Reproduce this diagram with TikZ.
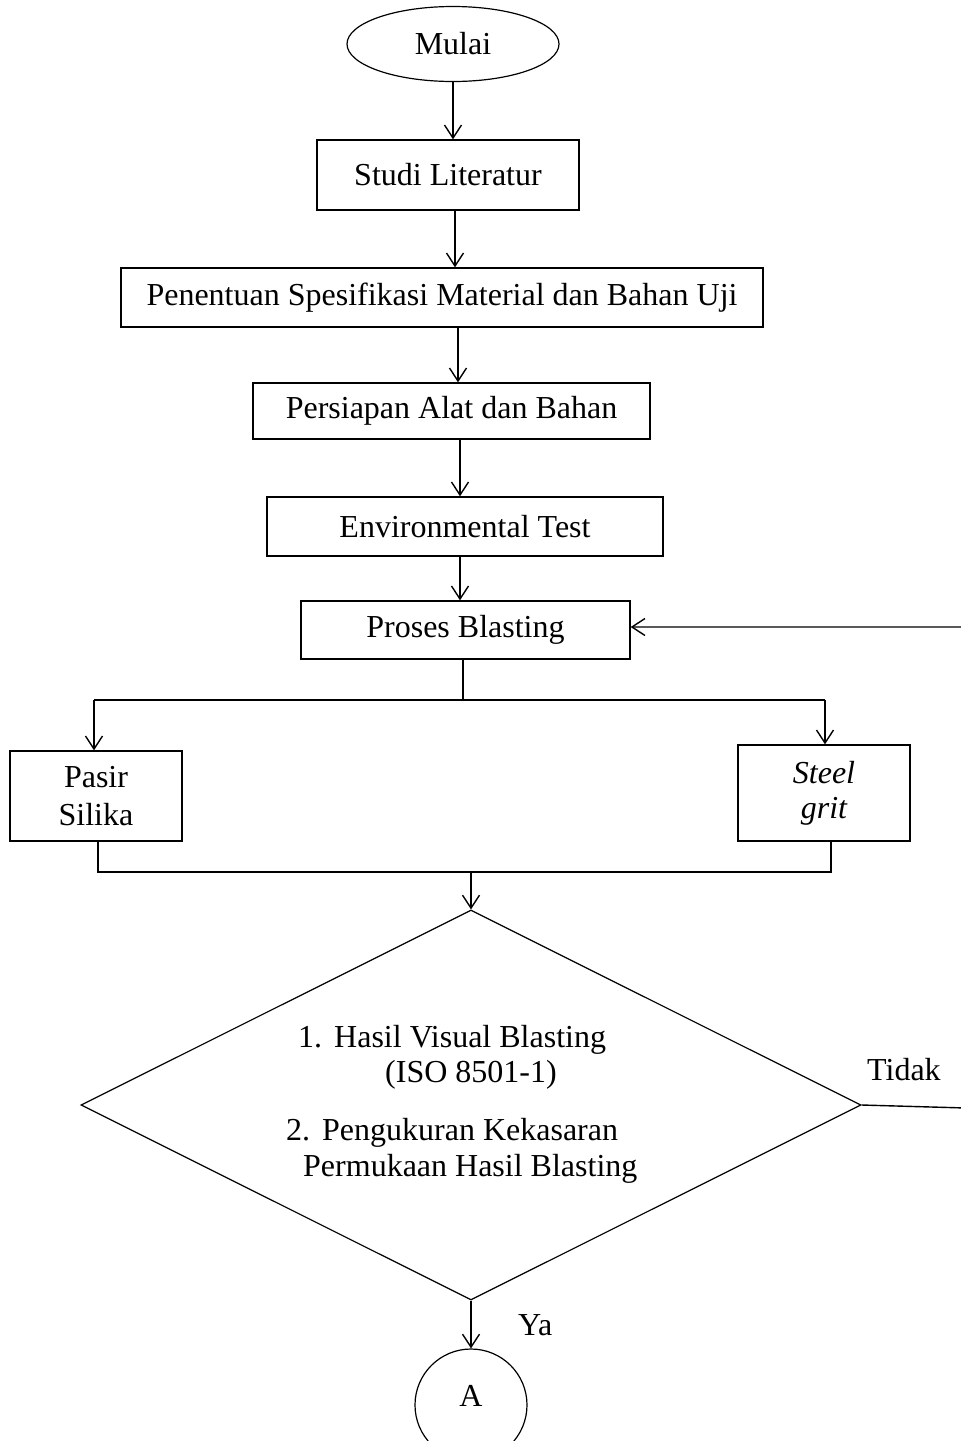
\documentclass[tikz,border=0pt]{standalone}
\usepackage{fontspec}
\setmainfont{Liberation Serif}
\usetikzlibrary{arrows.meta,shapes.geometric}
\begin{document}
\begin{tikzpicture}[x=1pt,y=-1pt,
  every node/.style={font=\fontsize{32}{38}\selectfont, inner sep=0pt},
  line/.style={line width=1.4pt},
  thinline/.style={line width=1.1pt},
  arr/.style={line width=1.4pt,-{Straight Barb[length=13pt,width=17pt,line width=1.4pt]}},
  box/.style={draw,line width=1.4pt,rectangle},
  lbl/.style={anchor=base west}]
\useasboundingbox (0,0) rectangle (961,1441);
% nodes
\node[draw,ellipse,line width=1.2pt,minimum width=212pt,minimum height=75pt] (mulai) at (453,44) {Mulai};
\node[box,minimum width=262pt,minimum height=70pt] (studi) at (448,175) {Studi Literatur};
\node[box,minimum width=642pt,minimum height=59pt] (penentuan) at (442,297.5) {Penentuan Spesifikasi Material dan Bahan Uji};
\node[box,minimum width=397pt,minimum height=56pt] (persiapan) at (451.5,411) {Persiapan Alat dan Bahan};
\node[box,minimum width=396pt,minimum height=59pt] (env) at (465,526.5) {Environmental Test};
\node[box,minimum width=329pt,minimum height=58pt] (proses) at (465.5,630) {Proses Blasting};
\node[box,minimum width=172pt,minimum height=90pt,align=center,font=\fontsize{32}{38}\selectfont] (pasir) at (96,796) {Pasir\\Silika};
\node[box,minimum width=172pt,minimum height=96pt,align=center,font=\fontsize{32}{35}\selectfont\itshape] (steel) at (824,793) {Steel\\grit};
\node[draw,diamond,line width=1.2pt,minimum width=780pt,minimum height=390pt] (dec) at (471,1105) {};
\node[lbl] (d1n) at (298,1047) {1.};
\node[lbl] (d1) at (334,1047) {Hasil Visual Blasting};
\node[lbl] (d1b) at (385,1082) {(ISO 8501-1)};
\node[lbl] (d2n) at (286,1140) {2.};
\node[lbl] (d2) at (322,1140) {Pengukuran Kekasaran};
\node[lbl] (d2b) at (303,1176) {Permukaan Hasil Blasting};
\node[lbl] (tidak) at (867,1080) {Tidak};
\node[lbl] (ya) at (518,1335) {Ya};
\node[draw,circle,line width=1.2pt,minimum size=112pt] (cA) at (471,1405) {};
\node (atext) at (471,1396) {A};
% connectors
\draw[arr] (mulai.south) -- (mulai.south |- studi.north);
\coordinate (c2) at (455,0);
\draw[arr] (c2 |- studi.south) -- (c2 |- penentuan.north);
\coordinate (c3) at (458,0);
\draw[arr] (c3 |- penentuan.south) -- (c3 |- persiapan.north);
\coordinate (c4) at (460,0);
\draw[arr] (c4 |- persiapan.south) -- (c4 |- env.north);
\draw[arr] (c4 |- env.south) -- (c4 |- proses.north);
\coordinate (bm) at (463,700);
\coordinate (bl) at (94,700);
\coordinate (brr) at (825,700);
\draw[line] (bm |- proses.south) -- (bm);
\draw[line] (bl) -- (brr);
\draw[arr] (bl) -- (bl |- pasir.north);
\draw[arr] (brr) -- (brr |- steel.north);
\coordinate (ml) at (98,872);
\coordinate (mr) at (831,872);
\coordinate (mm) at (471,872);
\draw[thinline] (ml |- pasir.south) -- (ml) -- (mr) -- (mr |- steel.south);
\draw[arr] (mm) -- (dec.north);
\coordinate (lt) at (966,1108);
\coordinate (lp) at (966,627);
\draw[arr] (dec.east) -- (lt) -- (lp) -- (proses.east |- lp);
\draw[arr] (dec.south) -- (cA.north);
\end{tikzpicture}
\end{document}
